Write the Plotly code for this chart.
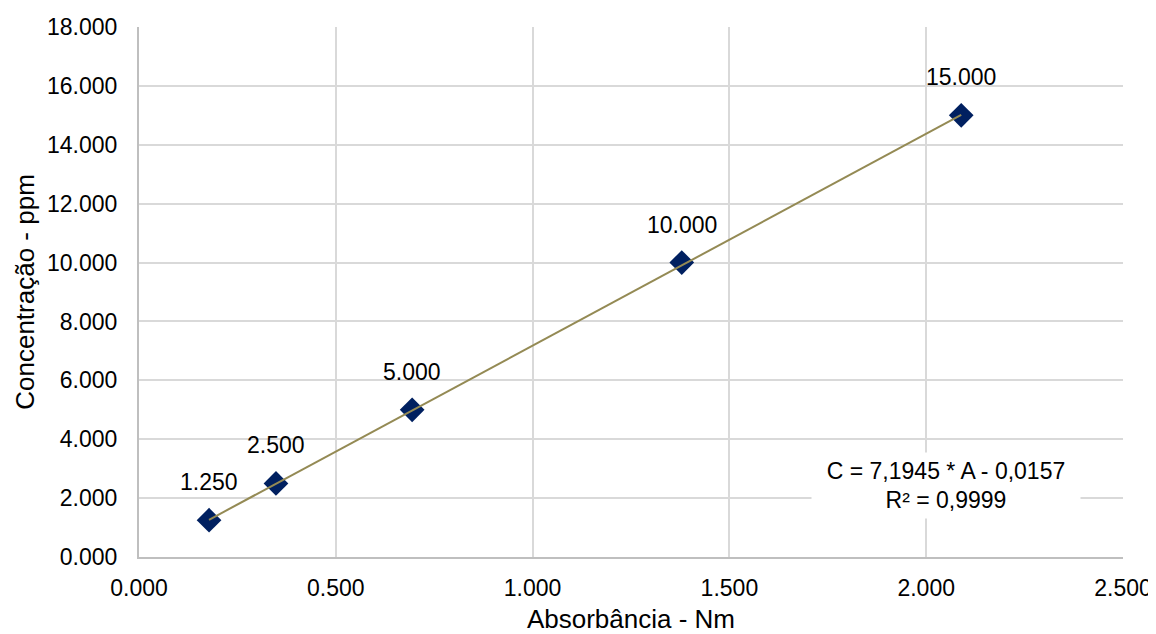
import plotly.graph_objects as go

# Data
absorbance = [0.178, 0.348, 0.694, 1.379, 2.089]
concentration = [1.25, 2.5, 5.0, 10.0, 15.0]
point_labels = ["1.250", "2.500", "5.000", "10.000", "15.000"]

slope = 7.1945
intercept = -0.0157
equation_text = "C = 7,1945 * A - 0,0157<br>R² = 0,9999"

x_tickvals = [0.0, 0.5, 1.0, 1.5, 2.0, 2.5]
x_ticktext = ["0.000", "0.500", "1.000", "1.500", "2.000", "2.500"]
y_tickvals = [0, 2, 4, 6, 8, 10, 12, 14, 16, 18]
y_ticktext = ["0.000", "2.000", "4.000", "6.000", "8.000", "10.000",
              "12.000", "14.000", "16.000", "18.000"]

FONT = "Liberation Sans, Arial, sans-serif"

trend_x = [min(absorbance), max(absorbance)]
trend_y = [slope * v + intercept for v in trend_x]

fig = go.Figure()
fig.add_trace(go.Scatter(
    x=absorbance, y=concentration, mode="markers",
    marker=dict(symbol="diamond", size=19, color="#002060"),
    showlegend=False, hoverinfo="x+y",
))
# trendline drawn over markers as in the reference
fig.add_trace(go.Scatter(
    x=trend_x, y=trend_y, mode="lines",
    line=dict(color="#948a54", width=2),
    showlegend=False, hoverinfo="skip",
))

annotations = []
for xv, yv, lab in zip(absorbance, concentration, point_labels):
    annotations.append(dict(
        x=xv, y=yv, xref="x", yref="y", text=lab, showarrow=False,
        yshift=38, font=dict(family=FONT, size=23, color="#000000"),
    ))
annotations.append(dict(
    x=2.05, y=2.42, xref="x", yref="y", text=equation_text, showarrow=False,
    bgcolor="#ffffff", borderpad=3, width=262, height=59,
    font=dict(family=FONT, size=23, color="#000000"),
))

# page body has an 8px default margin, so the figure is sized to end at the window edge
fig.update_layout(
    width=1148, height=626,
    margin=dict(l=131, r=33, t=19, b=77, pad=0),
    paper_bgcolor="#ffffff", plot_bgcolor="#ffffff",
    font=dict(family=FONT, size=23, color="#000000"),
    annotations=annotations,
    xaxis=dict(
        range=[0, 2.5], tickvals=x_tickvals, ticktext=x_ticktext,
        automargin=False,
        showgrid=True, gridcolor="#d9d9d9", gridwidth=2,
        zeroline=False, showline=True, linecolor="#bfbfbf", linewidth=2,
        ticks="", ticklabelstandoff=9,
        tickfont=dict(family=FONT, size=23, color="#000000"),
        title=dict(text="Absorbância - Nm", standoff=23,
                   font=dict(family=FONT, size=26, color="#000000")),
    ),
    yaxis=dict(
        range=[0, 18], tickvals=y_tickvals, ticktext=y_ticktext,
        automargin=False,
        showgrid=True, gridcolor="#d9d9d9", gridwidth=2,
        zeroline=False, showline=True, linecolor="#bfbfbf", linewidth=2,
        ticks="", ticklabelstandoff=15,
        tickfont=dict(family=FONT, size=23, color="#000000"),
        title=dict(text="Concentração - ppm", standoff=5,
                   font=dict(family=FONT, size=26, color="#000000")),
    ),
)

fig.write_html("out.html")
